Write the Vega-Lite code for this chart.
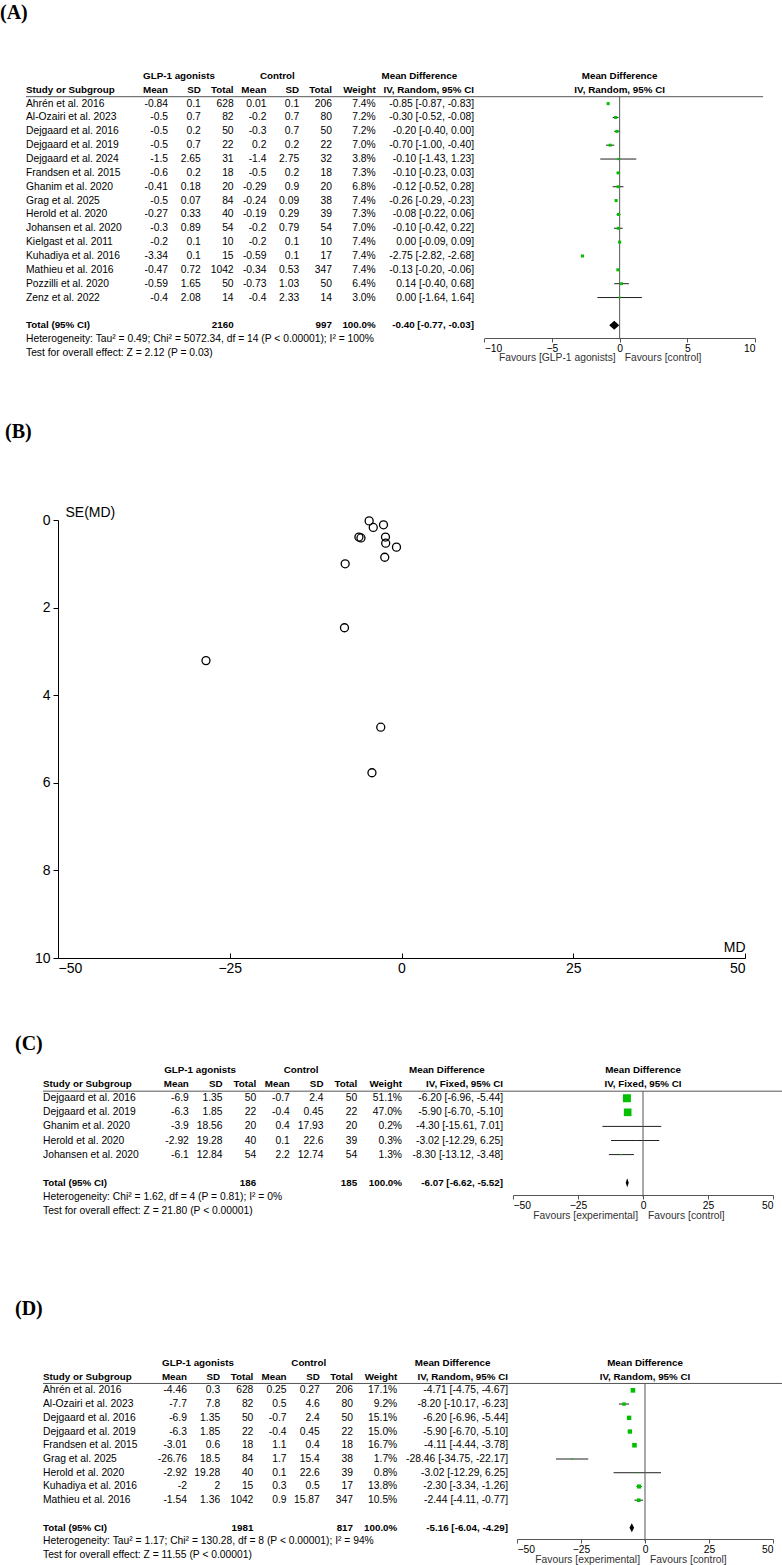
{
"$schema": "https://vega.github.io/schema/vega-lite/v6.json",
"padding": {"top": 3, "left": 0, "right": 0, "bottom": 0},
"bounds": "flush",
"spacing": 105,
"resolve": {"scale": {"x": "independent", "y": "independent", "size": "independent"}},
"config": {
  "view": {"stroke": null},
  "font": "Liberation Sans",
  "axis": {"grid": false, "domainColor": "black", "tickColor": "black", "labelColor": "black", "titleColor": "black", "labelFont": "Liberation Sans", "titleFont": "Liberation Sans"},
  "text": {"color": "black", "font": "Liberation Sans", "fontSize": 10.3},
  "title": {"anchor": "start", "frame": "group", "font": "Liberation Serif", "fontSize": 20, "fontWeight": "bold", "color": "black"},
  "point": {"opacity": 1}
},
"datasets": {
  "fA": [
    {"study": "Ahrén et al. 2016", "gm": -0.84, "gsd": 0.1, "gn": 628, "cm": 0.01, "csd": 0.1, "cn": 206, "weight": 0.074, "md": -0.85, "lo": -0.87, "hi": -0.83, "ci": "-0.85 [-0.87, -0.83]"},
    {"study": "Al-Ozairi et al. 2023", "gm": -0.5, "gsd": 0.7, "gn": 82, "cm": -0.2, "csd": 0.7, "cn": 80, "weight": 0.072, "md": -0.30, "lo": -0.52, "hi": -0.08, "ci": "-0.30 [-0.52, -0.08]"},
    {"study": "Dejgaard et al. 2016", "gm": -0.5, "gsd": 0.2, "gn": 50, "cm": -0.3, "csd": 0.7, "cn": 50, "weight": 0.072, "md": -0.20, "lo": -0.40, "hi": 0.00, "ci": "-0.20 [-0.40, 0.00]"},
    {"study": "Dejgaard et al. 2019", "gm": -0.5, "gsd": 0.7, "gn": 22, "cm": 0.2, "csd": 0.2, "cn": 22, "weight": 0.070, "md": -0.70, "lo": -1.00, "hi": -0.40, "ci": "-0.70 [-1.00, -0.40]"},
    {"study": "Dejgaard et al. 2024", "gm": -1.5, "gsd": 2.65, "gn": 31, "cm": -1.4, "csd": 2.75, "cn": 32, "weight": 0.038, "md": -0.10, "lo": -1.43, "hi": 1.23, "ci": "-0.10 [-1.43, 1.23]"},
    {"study": "Frandsen et al. 2015", "gm": -0.6, "gsd": 0.2, "gn": 18, "cm": -0.5, "csd": 0.2, "cn": 18, "weight": 0.073, "md": -0.10, "lo": -0.23, "hi": 0.03, "ci": "-0.10 [-0.23, 0.03]"},
    {"study": "Ghanim et al. 2020", "gm": -0.41, "gsd": 0.18, "gn": 20, "cm": -0.29, "csd": 0.9, "cn": 20, "weight": 0.068, "md": -0.12, "lo": -0.52, "hi": 0.28, "ci": "-0.12 [-0.52, 0.28]"},
    {"study": "Grag et al. 2025", "gm": -0.5, "gsd": 0.07, "gn": 84, "cm": -0.24, "csd": 0.09, "cn": 38, "weight": 0.074, "md": -0.26, "lo": -0.29, "hi": -0.23, "ci": "-0.26 [-0.29, -0.23]"},
    {"study": "Herold et al. 2020", "gm": -0.27, "gsd": 0.33, "gn": 40, "cm": -0.19, "csd": 0.29, "cn": 39, "weight": 0.073, "md": -0.08, "lo": -0.22, "hi": 0.06, "ci": "-0.08 [-0.22, 0.06]"},
    {"study": "Johansen et al. 2020", "gm": -0.3, "gsd": 0.89, "gn": 54, "cm": -0.2, "csd": 0.79, "cn": 54, "weight": 0.070, "md": -0.10, "lo": -0.42, "hi": 0.22, "ci": "-0.10 [-0.42, 0.22]"},
    {"study": "Kielgast et al. 2011", "gm": -0.2, "gsd": 0.1, "gn": 10, "cm": -0.2, "csd": 0.1, "cn": 10, "weight": 0.074, "md": 0.00, "lo": -0.09, "hi": 0.09, "ci": "0.00 [-0.09, 0.09]"},
    {"study": "Kuhadiya et al. 2016", "gm": -3.34, "gsd": 0.1, "gn": 15, "cm": -0.59, "csd": 0.1, "cn": 17, "weight": 0.074, "md": -2.75, "lo": -2.82, "hi": -2.68, "ci": "-2.75 [-2.82, -2.68]"},
    {"study": "Mathieu et al. 2016", "gm": -0.47, "gsd": 0.72, "gn": 1042, "cm": -0.34, "csd": 0.53, "cn": 347, "weight": 0.074, "md": -0.13, "lo": -0.20, "hi": -0.06, "ci": "-0.13 [-0.20, -0.06]"},
    {"study": "Pozzilli et al. 2020", "gm": -0.59, "gsd": 1.65, "gn": 50, "cm": -0.73, "csd": 1.03, "cn": 50, "weight": 0.064, "md": 0.14, "lo": -0.40, "hi": 0.68, "ci": "0.14 [-0.40, 0.68]"},
    {"study": "Zenz et al. 2022", "gm": -0.4, "gsd": 2.08, "gn": 14, "cm": -0.4, "csd": 2.33, "cn": 14, "weight": 0.030, "md": 0.00, "lo": -1.64, "hi": 1.64, "ci": "0.00 [-1.64, 1.64]"}
  ],
  "tA": [{"study": "Total (95% CI)", "gn": 2160, "cn": 997, "weight": 1, "md": -0.40, "lo": -0.77, "hi": -0.03, "ci": "-0.40 [-0.77, -0.03]"}],
  "fC": [
    {"study": "Dejgaard et al. 2016", "gm": -6.9, "gsd": 1.35, "gn": 50, "cm": -0.7, "csd": 2.4, "cn": 50, "weight": 0.511, "md": -6.20, "lo": -6.96, "hi": -5.44, "ci": "-6.20 [-6.96, -5.44]"},
    {"study": "Dejgaard et al. 2019", "gm": -6.3, "gsd": 1.85, "gn": 22, "cm": -0.4, "csd": 0.45, "cn": 22, "weight": 0.470, "md": -5.90, "lo": -6.70, "hi": -5.10, "ci": "-5.90 [-6.70, -5.10]"},
    {"study": "Ghanim et al. 2020", "gm": -3.9, "gsd": 18.56, "gn": 20, "cm": 0.4, "csd": 17.93, "cn": 20, "weight": 0.002, "md": -4.30, "lo": -15.61, "hi": 7.01, "ci": "-4.30 [-15.61, 7.01]"},
    {"study": "Herold et al. 2020", "gm": -2.92, "gsd": 19.28, "gn": 40, "cm": 0.1, "csd": 22.6, "cn": 39, "weight": 0.003, "md": -3.02, "lo": -12.29, "hi": 6.25, "ci": "-3.02 [-12.29, 6.25]"},
    {"study": "Johansen et al. 2020", "gm": -6.1, "gsd": 12.84, "gn": 54, "cm": 2.2, "csd": 12.74, "cn": 54, "weight": 0.013, "md": -8.30, "lo": -13.12, "hi": -3.48, "ci": "-8.30 [-13.12, -3.48]"}
  ],
  "tC": [{"study": "Total (95% CI)", "gn": 186, "cn": 185, "weight": 1, "md": -6.07, "lo": -6.62, "hi": -5.52, "ci": "-6.07 [-6.62, -5.52]"}],
  "fD": [
    {"study": "Ahrén et al. 2016", "gm": -4.46, "gsd": 0.3, "gn": 628, "cm": 0.25, "csd": 0.27, "cn": 206, "weight": 0.171, "md": -4.71, "lo": -4.75, "hi": -4.67, "ci": "-4.71 [-4.75, -4.67]"},
    {"study": "Al-Ozairi et al. 2023", "gm": -7.7, "gsd": 7.8, "gn": 82, "cm": 0.5, "csd": 4.6, "cn": 80, "weight": 0.092, "md": -8.20, "lo": -10.17, "hi": -6.23, "ci": "-8.20 [-10.17, -6.23]"},
    {"study": "Dejgaard et al. 2016", "gm": -6.9, "gsd": 1.35, "gn": 50, "cm": -0.7, "csd": 2.4, "cn": 50, "weight": 0.151, "md": -6.20, "lo": -6.96, "hi": -5.44, "ci": "-6.20 [-6.96, -5.44]"},
    {"study": "Dejgaard et al. 2019", "gm": -6.3, "gsd": 1.85, "gn": 22, "cm": -0.4, "csd": 0.45, "cn": 22, "weight": 0.150, "md": -5.90, "lo": -6.70, "hi": -5.10, "ci": "-5.90 [-6.70, -5.10]"},
    {"study": "Frandsen et al. 2015", "gm": -3.01, "gsd": 0.6, "gn": 18, "cm": 1.1, "csd": 0.4, "cn": 18, "weight": 0.167, "md": -4.11, "lo": -4.44, "hi": -3.78, "ci": "-4.11 [-4.44, -3.78]"},
    {"study": "Grag et al. 2025", "gm": -26.76, "gsd": 18.5, "gn": 84, "cm": 1.7, "csd": 15.4, "cn": 38, "weight": 0.017, "md": -28.46, "lo": -34.75, "hi": -22.17, "ci": "-28.46 [-34.75, -22.17]"},
    {"study": "Herold et al. 2020", "gm": -2.92, "gsd": 19.28, "gn": 40, "cm": 0.1, "csd": 22.6, "cn": 39, "weight": 0.008, "md": -3.02, "lo": -12.29, "hi": 6.25, "ci": "-3.02 [-12.29, 6.25]"},
    {"study": "Kuhadiya et al. 2016", "gm": -2, "gsd": 2, "gn": 15, "cm": 0.3, "csd": 0.5, "cn": 17, "weight": 0.138, "md": -2.30, "lo": -3.34, "hi": -1.26, "ci": "-2.30 [-3.34, -1.26]"},
    {"study": "Mathieu et al. 2016", "gm": -1.54, "gsd": 1.36, "gn": 1042, "cm": 0.9, "csd": 15.87, "cn": 347, "weight": 0.105, "md": -2.44, "lo": -4.11, "hi": -0.77, "ci": "-2.44 [-4.11, -0.77]"}
  ],
  "tD": [{"study": "Total (95% CI)", "gn": 1981, "cn": 817, "weight": 1, "md": -5.16, "lo": -6.04, "hi": -4.29, "ci": "-5.16 [-6.04, -4.29]"}],
  "funnel": [
    {"md": -4.71, "se": 0.02}, {"md": -4.11, "se": 0.17}, {"md": -2.62, "se": 0.11}, {"md": -6.20, "se": 0.39},
    {"md": -5.90, "se": 0.41}, {"md": -2.33, "se": 0.39}, {"md": -2.30, "se": 0.53}, {"md": -0.73, "se": 0.62},
    {"md": -2.44, "se": 0.85}, {"md": -8.20, "se": 1.0}, {"md": -8.30, "se": 2.46}, {"md": -28.46, "se": 3.21},
    {"md": -3.02, "se": 4.73}, {"md": -4.30, "se": 5.77}
  ]
},
"vconcat": [
  {
    "width": 782, "height": 346,
    "title": {"text": "(A)", "offset": 46, "dx": 0},
    "encoding": {"y": {"field": "study", "type": "nominal", "axis": null, "scale": {"type": "band", "paddingInner": 0, "paddingOuter": 0.99, "align": 0,
      "domain": ["h1","h2","Ahrén et al. 2016","Al-Ozairi et al. 2023","Dejgaard et al. 2016","Dejgaard et al. 2019","Dejgaard et al. 2024","Frandsen et al. 2015","Ghanim et al. 2020","Grag et al. 2025","Herold et al. 2020","Johansen et al. 2020","Kielgast et al. 2011","Kuhadiya et al. 2016","Mathieu et al. 2016","Pozzilli et al. 2020","Zenz et al. 2022","gap","Total (95% CI)","het","test","pad1","pad2"]}}},
    "layer": [
      {
        "encoding": {"x": {"field": "col", "type": "nominal", "axis": null, "scale": {"type": "point", "padding": 0, "range": [26, 474],
          "domain": ["study","_1","_2","_3","_4","_5","_6","_7","_8","_9","_10","_11","_12","gm","gc","_15","gsd","_17","_18","gn","_20","_21","cm","cc","_24","csd","_26","_27","cn","_29","_30","_31","w","_33","_34","_35","mdc","_37","_38","_39","_40","ci"]}}},
        "layer": [
          {"data": {"name": "fA"}, "mark": {"type": "text", "align": "left"}, "encoding": {"x": {"datum": "study"}, "text": {"field": "study", "type": "nominal"}}},
          {"data": {"name": "fA"}, "transform": [{"fold": ["gm","gsd","gn","cm","csd","cn","ci"], "as": ["col","value"]}], "mark": {"type": "text", "align": "right"}, "encoding": {"text": {"field": "value", "type": "nominal"}}},
          {"data": {"name": "fA"}, "mark": {"type": "text", "align": "right"}, "encoding": {"x": {"datum": "w"}, "text": {"field": "weight", "type": "quantitative", "format": ".1%"}}},
          {"data": {"name": "tA"}, "mark": {"type": "text", "align": "left", "fontWeight": "bold", "fontSize": 9.8}, "encoding": {"x": {"datum": "study"}, "text": {"field": "study", "type": "nominal"}}},
          {"data": {"name": "tA"}, "transform": [{"fold": ["gn","cn","ci"], "as": ["col","value"]}], "mark": {"type": "text", "align": "right", "fontWeight": "bold", "fontSize": 9.8}, "encoding": {"text": {"field": "value", "type": "nominal"}}},
          {"data": {"name": "tA"}, "mark": {"type": "text", "align": "right", "fontWeight": "bold", "fontSize": 9.8}, "encoding": {"x": {"datum": "w"}, "text": {"field": "weight", "type": "quantitative", "format": ".1%"}}},
          {"data": {"values": [{"col": "gc", "label": "GLP-1 agonists"}, {"col": "cc", "label": "Control"}, {"col": "mdc", "label": "Mean Difference"}]}, "mark": {"type": "text", "align": "center", "fontWeight": "bold", "fontSize": 9.8}, "encoding": {"y": {"datum": "h1"}, "text": {"field": "label", "type": "nominal"}}},
          {"data": {"values": [{"label": "Study or Subgroup"}]}, "mark": {"type": "text", "align": "left", "fontWeight": "bold", "fontSize": 9.8}, "encoding": {"x": {"datum": "study"}, "y": {"datum": "h2"}, "text": {"field": "label", "type": "nominal"}}},
          {"data": {"values": [{"col": "gm", "label": "Mean"}, {"col": "gsd", "label": "SD"}, {"col": "gn", "label": "Total"}, {"col": "cm", "label": "Mean"}, {"col": "csd", "label": "SD"}, {"col": "cn", "label": "Total"}, {"col": "w", "label": "Weight"}, {"col": "ci", "label": "IV, Random, 95% CI"}]}, "mark": {"type": "text", "align": "right", "fontWeight": "bold", "fontSize": 9.8}, "encoding": {"y": {"datum": "h2"}, "text": {"field": "label", "type": "nominal"}}},
          {"data": {"values": [{"study": "het", "label": "Heterogeneity: Tau² = 0.49; Chi² = 5072.34, df = 14 (P < 0.00001); I² = 100%"}, {"study": "test", "label": "Test for overall effect: Z = 2.12 (P = 0.03)"}]}, "mark": {"type": "text", "align": "left"}, "encoding": {"x": {"datum": "study"}, "text": {"field": "label", "type": "nominal"}}},
          {"data": {"values": [{}]}, "mark": {"type": "rule", "color": "#555555", "strokeWidth": 1}, "encoding": {"x": {"datum": "study"}, "x2": {"datum": "ci"}, "y": {"datum": "h2", "bandPosition": 1}}}
        ]
      },
      {
        "layer": [
          {"data": {"name": "fA"}, "mark": {"type": "rule", "color": "#222222", "strokeWidth": 1},
           "encoding": {"x": {"field": "lo", "type": "quantitative", "scale": {"domain": [-10, 10], "range": [484.3, 755], "nice": false, "zero": false},
             "axis": {"orient": "bottom", "offset": -77, "values": [-10, -5, 0, 5, 10], "title": null, "labelFlush": true, "tickSize": 4, "labelPadding": 1, "labelFontSize": 10.3, "domainColor": "#555555", "tickColor": "#555555"}},
             "x2": {"field": "hi"}}},
          {"data": {"values": [{}]}, "mark": {"type": "rule", "color": "#555555", "strokeWidth": 1}, "encoding": {"x": {"datum": -10.8, "type": "quantitative", "scale": {"domain": [-10, 10], "range": [484.3, 755], "nice": false, "zero": false}}, "x2": {"datum": 10.6}, "y": {"datum": "h2", "bandPosition": 1}}},
          {"data": {"values": [{}]}, "mark": {"type": "rule", "color": "#555555", "strokeWidth": 1}, "encoding": {"x": {"datum": 0, "type": "quantitative", "scale": {"domain": [-10, 10], "range": [484.3, 755], "nice": false, "zero": false}}, "y": {"datum": "h2", "bandPosition": 1}, "y2": {"datum": "het"}}},
          {"data": {"values": [{"study": "h1", "label": "Mean Difference"}, {"study": "h2", "label": "IV, Random, 95% CI"}]}, "mark": {"type": "text", "align": "center", "fontWeight": "bold", "fontSize": 9.8}, "encoding": {"x": {"datum": 0, "type": "quantitative", "scale": {"domain": [-10, 10], "range": [484.3, 755], "nice": false, "zero": false}}, "text": {"field": "label", "type": "nominal"}}},
          {"data": {"name": "fA"}, "mark": {"type": "point", "shape": "square", "filled": true, "color": "#00c000", "opacity": 1}, "encoding": {"x": {"field": "md", "type": "quantitative", "scale": {"domain": [-10, 10], "range": [484.3, 755], "nice": false, "zero": false}}, "size": {"field": "weight", "type": "quantitative", "legend": null, "scale": {"domain": [0, 1], "range": [0, 125]}}}},
          {"data": {"name": "tA"}, "mark": {"type": "point", "shape": "M-1,0L0,-0.9L1,0L0,0.9Z", "filled": true, "color": "black", "size": 100, "opacity": 1}, "encoding": {"x": {"field": "md", "type": "quantitative", "scale": {"domain": [-10, 10], "range": [484.3, 755], "nice": false, "zero": false}}}},
          {"data": {"values": [{"label": "Favours [GLP-1 agonists]"}]}, "mark": {"type": "text", "align": "right", "dx": -4, "dy": 5, "color": "#333333"}, "encoding": {"x": {"datum": 0, "type": "quantitative", "scale": {"domain": [-10, 10], "range": [484.3, 755], "nice": false, "zero": false}}, "y": {"datum": "test"}, "text": {"field": "label", "type": "nominal"}}},
          {"data": {"values": [{"label": "Favours [control]"}]}, "mark": {"type": "text", "align": "left", "dx": 5, "dy": 5, "color": "#333333"}, "encoding": {"x": {"datum": 0, "type": "quantitative", "scale": {"domain": [-10, 10], "range": [484.3, 755], "nice": false, "zero": false}}, "y": {"datum": "test"}, "text": {"field": "label", "type": "nominal"}}}
        ]
      }
    ],
    "resolve": {"scale": {"x": "independent"}, "axis": {"x": "independent"}}
  },
  {
    "width": 782, "height": 438,
    "title": {"text": "(B)", "offset": 63, "dx": 5},
    "encoding": {
      "x": {"field": "md", "type": "quantitative", "scale": {"domain": [-50, 50], "range": [58, 745], "nice": false, "zero": false},
        "axis": {"values": [-50, -25, 0, 25, 50], "title": "MD", "titleX": 745, "titleY": -11, "titleAlign": "right", "titleBaseline": "middle", "titleFontSize": 14, "titleFontWeight": "normal", "labelFontSize": 14, "tickSize": -5, "labelPadding": 8}},
      "y": {"field": "se", "type": "quantitative", "scale": {"domain": [0, 10], "reverse": true, "nice": false, "zero": false},
        "axis": {"offset": -58, "values": [0, 2, 4, 6, 8, 10], "title": "SE(MD)", "titleAngle": 0, "titleX": 7, "titleY": -8, "titleAlign": "left", "titleBaseline": "middle", "titleFontSize": 14, "titleFontWeight": "normal", "labelFontSize": 14, "tickSize": 5, "labelPadding": 3}}
    },
    "layer": [
      {"data": {"values": [{}]}, "mark": {"type": "rule", "color": "#33339a", "strokeDash": [5, 4], "strokeWidth": 1.2}, "encoding": {"x": {"datum": -4.4}, "y": {"datum": 0}, "y2": {"datum": 10}}},
      {"data": {"name": "funnel"}, "mark": {"type": "point", "shape": "circle", "filled": false, "color": "black", "size": 64, "strokeWidth": 1.3, "opacity": 1}}
    ]
  },
  {
    "width": 782, "height": 188,
    "title": {"text": "(C)", "offset": 9, "dx": 15},
    "encoding": {"y": {"field": "study", "type": "nominal", "axis": null, "scale": {"type": "band", "paddingInner": 0, "paddingOuter": 0.67, "align": 0,
      "domain": ["h1","h2","Dejgaard et al. 2016","Dejgaard et al. 2019","Ghanim et al. 2020","Herold et al. 2020","Johansen et al. 2020","gap","Total (95% CI)","het","test","pad1"]}}},
    "layer": [
      {
        "encoding": {"x": {"field": "col", "type": "nominal", "axis": null, "scale": {"type": "point", "padding": 0, "range": [43, 503],
          "domain": ["study","_1","_2","_3","_4","_5","_6","_7","_8","_9","_10","_11","_12","gm","gc","_15","gsd","_17","_18","gn","_20","_21","cm","cc","_24","csd","_26","_27","cn","_29","_30","_31","w","_33","_34","_35","mdc","_37","_38","_39","_40","ci"]}}},
        "layer": [
          {"data": {"name": "fC"}, "mark": {"type": "text", "align": "left"}, "encoding": {"x": {"datum": "study"}, "text": {"field": "study", "type": "nominal"}}},
          {"data": {"name": "fC"}, "transform": [{"fold": ["gm","gsd","gn","cm","csd","cn","ci"], "as": ["col","value"]}], "mark": {"type": "text", "align": "right"}, "encoding": {"text": {"field": "value", "type": "nominal"}}},
          {"data": {"name": "fC"}, "mark": {"type": "text", "align": "right"}, "encoding": {"x": {"datum": "w"}, "text": {"field": "weight", "type": "quantitative", "format": ".1%"}}},
          {"data": {"name": "tC"}, "mark": {"type": "text", "align": "left", "fontWeight": "bold", "fontSize": 9.8}, "encoding": {"x": {"datum": "study"}, "text": {"field": "study", "type": "nominal"}}},
          {"data": {"name": "tC"}, "transform": [{"fold": ["gn","cn","ci"], "as": ["col","value"]}], "mark": {"type": "text", "align": "right", "fontWeight": "bold", "fontSize": 9.8}, "encoding": {"text": {"field": "value", "type": "nominal"}}},
          {"data": {"name": "tC"}, "mark": {"type": "text", "align": "right", "fontWeight": "bold", "fontSize": 9.8}, "encoding": {"x": {"datum": "w"}, "text": {"field": "weight", "type": "quantitative", "format": ".1%"}}},
          {"data": {"values": [{"col": "gc", "label": "GLP-1 agonists"}, {"col": "cc", "label": "Control"}, {"col": "mdc", "label": "Mean Difference"}]}, "mark": {"type": "text", "align": "center", "fontWeight": "bold", "fontSize": 9.8}, "encoding": {"y": {"datum": "h1"}, "text": {"field": "label", "type": "nominal"}}},
          {"data": {"values": [{"label": "Study or Subgroup"}]}, "mark": {"type": "text", "align": "left", "fontWeight": "bold", "fontSize": 9.8}, "encoding": {"x": {"datum": "study"}, "y": {"datum": "h2"}, "text": {"field": "label", "type": "nominal"}}},
          {"data": {"values": [{"col": "gm", "label": "Mean"}, {"col": "gsd", "label": "SD"}, {"col": "gn", "label": "Total"}, {"col": "cm", "label": "Mean"}, {"col": "csd", "label": "SD"}, {"col": "cn", "label": "Total"}, {"col": "w", "label": "Weight"}, {"col": "ci", "label": "IV, Fixed, 95% CI"}]}, "mark": {"type": "text", "align": "right", "fontWeight": "bold", "fontSize": 9.8}, "encoding": {"y": {"datum": "h2"}, "text": {"field": "label", "type": "nominal"}}},
          {"data": {"values": [{"study": "het", "label": "Heterogeneity: Chi² = 1.62, df = 4 (P = 0.81); I² = 0%"}, {"study": "test", "label": "Test for overall effect: Z = 21.80 (P < 0.00001)"}]}, "mark": {"type": "text", "align": "left"}, "encoding": {"x": {"datum": "study"}, "text": {"field": "label", "type": "nominal"}}},
          {"data": {"values": [{}]}, "mark": {"type": "rule", "color": "#555555", "strokeWidth": 1}, "encoding": {"x": {"datum": "study"}, "x2": {"datum": "ci"}, "y": {"datum": "h2", "bandPosition": 1}}}
        ]
      },
      {
        "layer": [
          {"data": {"name": "fC"}, "mark": {"type": "rule", "color": "#222222", "strokeWidth": 1},
           "encoding": {"x": {"field": "lo", "type": "quantitative", "scale": {"domain": [-50, 50], "range": [513, 773], "nice": false, "zero": false},
             "axis": {"orient": "bottom", "offset": -56, "values": [-50, -25, 0, 25, 50], "title": null, "labelFlush": true, "tickSize": 4, "labelPadding": 1, "labelFontSize": 10.3, "domainColor": "#555555", "tickColor": "#555555"}},
             "x2": {"field": "hi"}}},
          {"data": {"values": [{}]}, "mark": {"type": "rule", "color": "#555555", "strokeWidth": 1}, "encoding": {"x": {"datum": -53.85, "type": "quantitative", "scale": {"domain": [-50, 50], "range": [513, 773], "nice": false, "zero": false}}, "x2": {"datum": 53.46}, "y": {"datum": "h2", "bandPosition": 1}}},
          {"data": {"values": [{}]}, "mark": {"type": "rule", "color": "#555555", "strokeWidth": 1}, "encoding": {"x": {"datum": 0, "type": "quantitative", "scale": {"domain": [-50, 50], "range": [513, 773], "nice": false, "zero": false}}, "y": {"datum": "h2", "bandPosition": 1}, "y2": {"datum": "het"}}},
          {"data": {"values": [{"study": "h1", "label": "Mean Difference"}, {"study": "h2", "label": "IV, Fixed, 95% CI"}]}, "mark": {"type": "text", "align": "center", "fontWeight": "bold", "fontSize": 9.8}, "encoding": {"x": {"datum": 0, "type": "quantitative", "scale": {"domain": [-50, 50], "range": [513, 773], "nice": false, "zero": false}}, "text": {"field": "label", "type": "nominal"}}},
          {"data": {"name": "fC"}, "mark": {"type": "point", "shape": "square", "filled": true, "color": "#00c000", "opacity": 1}, "encoding": {"x": {"field": "md", "type": "quantitative", "scale": {"domain": [-50, 50], "range": [513, 773], "nice": false, "zero": false}}, "size": {"field": "weight", "type": "quantitative", "legend": null, "scale": {"domain": [0, 1], "range": [0, 125]}}}},
          {"data": {"name": "tC"}, "mark": {"type": "point", "shape": "M-0.33,0L0,-1L0.33,0L0,1Z", "filled": true, "color": "black", "size": 81, "opacity": 1}, "encoding": {"x": {"field": "md", "type": "quantitative", "scale": {"domain": [-50, 50], "range": [513, 773], "nice": false, "zero": false}}}},
          {"data": {"values": [{"label": "Favours [experimental]"}]}, "mark": {"type": "text", "align": "right", "dx": -5, "dy": 5, "color": "#333333"}, "encoding": {"x": {"datum": 0, "type": "quantitative", "scale": {"domain": [-50, 50], "range": [513, 773], "nice": false, "zero": false}}, "y": {"datum": "test"}, "text": {"field": "label", "type": "nominal"}}},
          {"data": {"values": [{"label": "Favours [control]"}]}, "mark": {"type": "text", "align": "left", "dx": 5, "dy": 5, "color": "#333333"}, "encoding": {"x": {"datum": 0, "type": "quantitative", "scale": {"domain": [-50, 50], "range": [513, 773], "nice": false, "zero": false}}, "y": {"datum": "test"}, "text": {"field": "label", "type": "nominal"}}}
        ]
      }
    ],
    "resolve": {"scale": {"x": "independent"}, "axis": {"x": "independent"}}
  },
  {
    "width": 782, "height": 206,
    "title": {"text": "(D)", "offset": 37, "dx": 15},
    "encoding": {"y": {"field": "study", "type": "nominal", "axis": null, "scale": {"type": "band", "paddingInner": 0, "paddingOuter": 0, "align": 0,
      "domain": ["h1","h2","Ahrén et al. 2016","Al-Ozairi et al. 2023","Dejgaard et al. 2016","Dejgaard et al. 2019","Frandsen et al. 2015","Grag et al. 2025","Herold et al. 2020","Kuhadiya et al. 2016","Mathieu et al. 2016","gap","Total (95% CI)","het","test"]}}},
    "layer": [
      {
        "encoding": {"x": {"field": "col", "type": "nominal", "axis": null, "scale": {"type": "point", "padding": 0, "range": [43, 508],
          "domain": ["study","_1","_2","_3","_4","_5","_6","_7","_8","_9","_10","_11","_12","gm","gc","_15","gsd","_17","_18","gn","_20","_21","cm","_23","cc","csd","_26","_27","cn","_29","_30","_31","w","_33","_34","_35","_36","mdc","_38","_39","_40","_41","ci"]}}},
        "layer": [
          {"data": {"name": "fD"}, "mark": {"type": "text", "align": "left"}, "encoding": {"x": {"datum": "study"}, "text": {"field": "study", "type": "nominal"}}},
          {"data": {"name": "fD"}, "transform": [{"fold": ["gm","gsd","gn","cm","csd","cn","ci"], "as": ["col","value"]}], "mark": {"type": "text", "align": "right"}, "encoding": {"text": {"field": "value", "type": "nominal"}}},
          {"data": {"name": "fD"}, "mark": {"type": "text", "align": "right"}, "encoding": {"x": {"datum": "w"}, "text": {"field": "weight", "type": "quantitative", "format": ".1%"}}},
          {"data": {"name": "tD"}, "mark": {"type": "text", "align": "left", "fontWeight": "bold", "fontSize": 9.8}, "encoding": {"x": {"datum": "study"}, "text": {"field": "study", "type": "nominal"}}},
          {"data": {"name": "tD"}, "transform": [{"fold": ["gn","cn","ci"], "as": ["col","value"]}], "mark": {"type": "text", "align": "right", "fontWeight": "bold", "fontSize": 9.8}, "encoding": {"text": {"field": "value", "type": "nominal"}}},
          {"data": {"name": "tD"}, "mark": {"type": "text", "align": "right", "fontWeight": "bold", "fontSize": 9.8}, "encoding": {"x": {"datum": "w"}, "text": {"field": "weight", "type": "quantitative", "format": ".1%"}}},
          {"data": {"values": [{"col": "gc", "label": "GLP-1 agonists"}, {"col": "cc", "label": "Control"}, {"col": "mdc", "label": "Mean Difference"}]}, "mark": {"type": "text", "align": "center", "fontWeight": "bold", "fontSize": 9.8}, "encoding": {"y": {"datum": "h1"}, "text": {"field": "label", "type": "nominal"}}},
          {"data": {"values": [{"label": "Study or Subgroup"}]}, "mark": {"type": "text", "align": "left", "fontWeight": "bold", "fontSize": 9.8}, "encoding": {"x": {"datum": "study"}, "y": {"datum": "h2"}, "text": {"field": "label", "type": "nominal"}}},
          {"data": {"values": [{"col": "gm", "label": "Mean"}, {"col": "gsd", "label": "SD"}, {"col": "gn", "label": "Total"}, {"col": "cm", "label": "Mean"}, {"col": "csd", "label": "SD"}, {"col": "cn", "label": "Total"}, {"col": "w", "label": "Weight"}, {"col": "ci", "label": "IV, Random, 95% CI"}]}, "mark": {"type": "text", "align": "right", "fontWeight": "bold", "fontSize": 9.8}, "encoding": {"y": {"datum": "h2"}, "text": {"field": "label", "type": "nominal"}}},
          {"data": {"values": [{"study": "het", "label": "Heterogeneity: Tau² = 1.17; Chi² = 130.28, df = 8 (P < 0.00001); I² = 94%"}, {"study": "test", "label": "Test for overall effect: Z = 11.55 (P < 0.00001)"}]}, "mark": {"type": "text", "align": "left"}, "encoding": {"x": {"datum": "study"}, "text": {"field": "label", "type": "nominal"}}},
          {"data": {"values": [{}]}, "mark": {"type": "rule", "color": "#555555", "strokeWidth": 1}, "encoding": {"x": {"datum": "study"}, "x2": {"datum": "ci"}, "y": {"datum": "h2", "bandPosition": 1}}}
        ]
      },
      {
        "layer": [
          {"data": {"name": "fD"}, "mark": {"type": "rule", "color": "#222222", "strokeWidth": 1},
           "encoding": {"x": {"field": "lo", "type": "quantitative", "scale": {"domain": [-50, 50], "range": [517, 773], "nice": false, "zero": false},
             "axis": {"orient": "bottom", "offset": -23, "values": [-50, -25, 0, 25, 50], "title": null, "labelFlush": true, "tickSize": 4, "labelPadding": 1, "labelFontSize": 10.3, "domainColor": "#555555", "tickColor": "#555555"}},
             "x2": {"field": "hi"}}},
          {"data": {"values": [{}]}, "mark": {"type": "rule", "color": "#555555", "strokeWidth": 1}, "encoding": {"x": {"datum": -53.5, "type": "quantitative", "scale": {"domain": [-50, 50], "range": [517, 773], "nice": false, "zero": false}}, "x2": {"datum": 53.5}, "y": {"datum": "h2", "bandPosition": 1}}},
          {"data": {"values": [{}]}, "mark": {"type": "rule", "color": "#555555", "strokeWidth": 1}, "encoding": {"x": {"datum": 0, "type": "quantitative", "scale": {"domain": [-50, 50], "range": [517, 773], "nice": false, "zero": false}}, "y": {"datum": "h2", "bandPosition": 1}, "y2": {"datum": "het"}}},
          {"data": {"values": [{"study": "h1", "label": "Mean Difference"}, {"study": "h2", "label": "IV, Random, 95% CI"}]}, "mark": {"type": "text", "align": "center", "fontWeight": "bold", "fontSize": 9.8}, "encoding": {"x": {"datum": 0, "type": "quantitative", "scale": {"domain": [-50, 50], "range": [517, 773], "nice": false, "zero": false}}, "text": {"field": "label", "type": "nominal"}}},
          {"data": {"name": "fD"}, "mark": {"type": "point", "shape": "square", "filled": true, "color": "#00c000", "opacity": 1}, "encoding": {"x": {"field": "md", "type": "quantitative", "scale": {"domain": [-50, 50], "range": [517, 773], "nice": false, "zero": false}}, "size": {"field": "weight", "type": "quantitative", "legend": null, "scale": {"domain": [0, 1], "range": [0, 125]}}}},
          {"data": {"name": "tD"}, "mark": {"type": "point", "shape": "M-0.5,0L0,-1L0.5,0L0,1Z", "filled": true, "color": "black", "size": 81, "opacity": 1}, "encoding": {"x": {"field": "md", "type": "quantitative", "scale": {"domain": [-50, 50], "range": [517, 773], "nice": false, "zero": false}}}},
          {"data": {"values": [{"label": "Favours [experimental]"}]}, "mark": {"type": "text", "align": "right", "dx": -5, "dy": 5, "color": "#333333"}, "encoding": {"x": {"datum": 0, "type": "quantitative", "scale": {"domain": [-50, 50], "range": [517, 773], "nice": false, "zero": false}}, "y": {"datum": "test"}, "text": {"field": "label", "type": "nominal"}}},
          {"data": {"values": [{"label": "Favours [control]"}]}, "mark": {"type": "text", "align": "left", "dx": 5, "dy": 5, "color": "#333333"}, "encoding": {"x": {"datum": 0, "type": "quantitative", "scale": {"domain": [-50, 50], "range": [517, 773], "nice": false, "zero": false}}, "y": {"datum": "test"}, "text": {"field": "label", "type": "nominal"}}}
        ]
      }
    ],
    "resolve": {"scale": {"x": "independent"}, "axis": {"x": "independent"}}
  }
]
}
